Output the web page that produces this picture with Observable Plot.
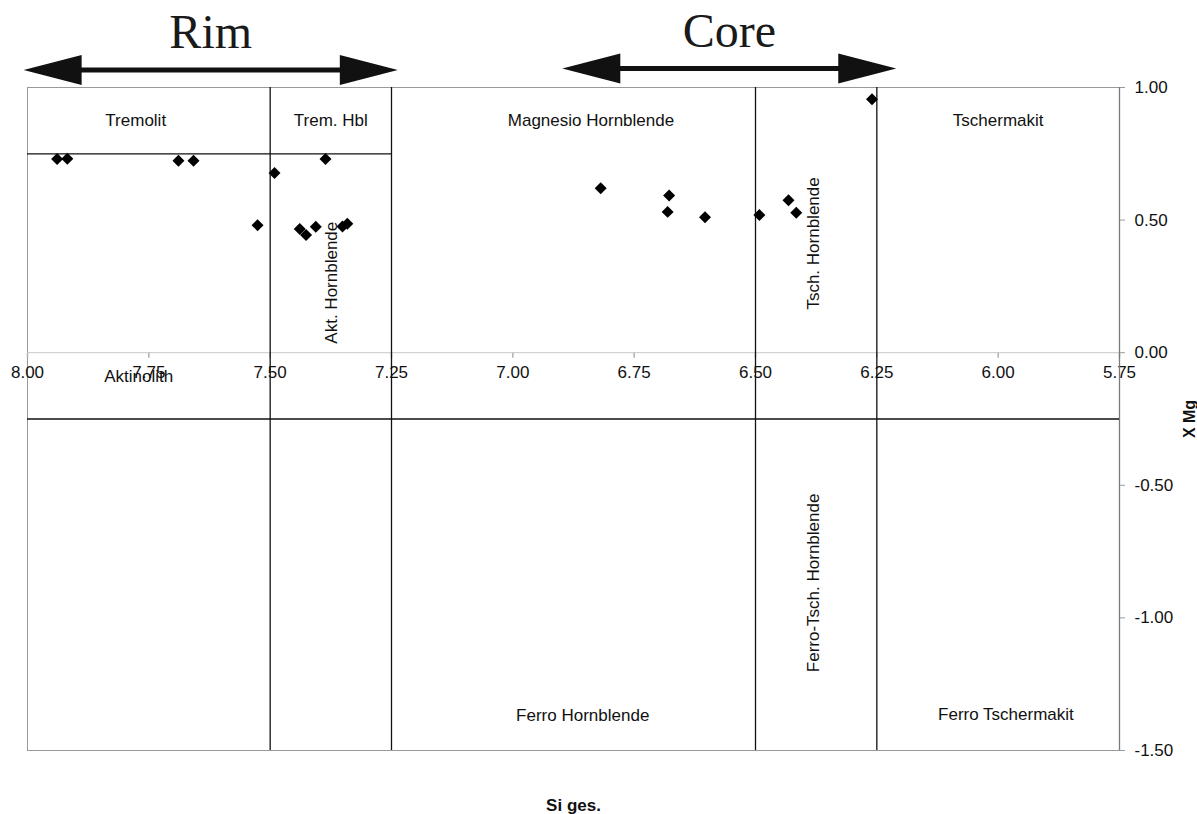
<!DOCTYPE html>
<html>
<head>
<meta charset="utf-8">
<script src="https://cdn.jsdelivr.net/npm/d3@7"></script>
<script src="https://cdn.jsdelivr.net/npm/@observablehq/plot@0.6"></script>
<style>
  html, body { margin: 0; padding: 0; background: #fff; }
  #chart svg { display: block; }
</style>
</head>
<body>
<div id="chart"></div>
<script>
// ---- Data ----
// Measured amphibole analyses: Si per formula unit vs. X Mg
const si  = [7.939, 7.918, 7.689, 7.658, 7.491, 7.386, 7.526, 7.439, 7.426, 7.406, 7.351, 7.341,
             6.819, 6.678, 6.681, 6.604, 6.492, 6.432, 6.416, 6.260];
const xmg = [0.730, 0.731, 0.724, 0.724, 0.678, 0.730, 0.481, 0.466, 0.444, 0.475, 0.476, 0.486,
             0.620, 0.593, 0.531, 0.511, 0.519, 0.575, 0.528, 0.956];

// Classification field boundaries
const siBounds = [7.5, 7.25, 6.5, 6.25];
const xmgBoundLevels = [0.75, -0.25];
const xmgBoundSiFrom = [8.0, 8.0];
const xmgBoundSiTo   = [7.25, 5.75];

// Field names and their anchor points (Si, X Mg)
const fieldNames = ["Tremolit", "Trem. Hbl", "Magnesio Hornblende", "Tschermakit", "Aktinolith",
                    "Akt. Hornblende", "Tsch. Hornblende", "Ferro-Tsch. Hornblende",
                    "Ferro Hornblende", "Ferro Tschermakit"];
const fieldSi  = [7.777, 7.375, 6.839, 6.0, 7.771, 7.373, 6.381, 6.381, 6.856, 5.984];
const fieldXmg = [0.874, 0.874, 0.874, 0.874, -0.089, 0.264, 0.412, -0.868, -1.367, -1.364];
const fieldVertical = [false, false, false, false, false, true, true, true, false, false];

// Rim / Core ranges (Si)
const zoneNames  = ["Rim", "Core"];
const zoneSiFrom = [8.008, 6.898];
const zoneSiTo   = [7.237, 6.210];
const zoneLevel  = [1.066, 1.072];

// Axis ticks and titles
const xTicks = [8.0, 7.75, 7.5, 7.25, 7.0, 6.75, 6.5, 6.25, 6.0, 5.75];
const yTicks = [1.0, 0.5, 0.0, -0.5, -1.0, -1.5];
const xTitle = "Si ges.";
const yTitle = "X Mg";

// ---- Build tables ----
const points = si.map((s, i) => ({si: s, xmg: xmg[i]}));
const hBounds = xmgBoundLevels.map((y, i) => ({y, x1: xmgBoundSiFrom[i], x2: xmgBoundSiTo[i]}));
const fields = fieldNames.map((name, i) => ({name, si: fieldSi[i], xmg: fieldXmg[i], vertical: fieldVertical[i]}));
const zones = zoneNames.map((name, i) => ({name, from: zoneSiFrom[i], to: zoneSiTo[i], level: zoneLevel[i],
                                           mid: (zoneSiFrom[i] + zoneSiTo[i]) / 2}));

const ink = "#111";
const font = "'Liberation Sans', Arial, sans-serif";

const headRight = {draw(ctx) { ctx.moveTo(0, 0); ctx.lineTo(-58, -15); ctx.lineTo(-58, 15); ctx.closePath(); }};
const headLeft  = {draw(ctx) { ctx.moveTo(0, 0); ctx.lineTo(58, -15); ctx.lineTo(58, 15); ctx.closePath(); }};
const tickDown  = {draw(ctx) { ctx.moveTo(0, 0); ctx.lineTo(0, 5); }};

const chart = Plot.plot({
  width: 1197,
  height: 814,
  marginLeft: 27,
  marginRight: 78,
  marginTop: 87,
  marginBottom: 64,
  style: {fontFamily: font, fontSize: "17px", background: "#fff", color: ink},
  x: {domain: [8, 5.75], axis: null},
  y: {domain: [-1.5, 1], axis: null},
  marks: [
    Plot.frame({stroke: "#9a9a9a"}),
    // x axis along X Mg = 0
    Plot.ruleY([0], {stroke: "#c8c8c8", strokeWidth: 1}),
    Plot.dot(xTicks, {x: d => d, y: 0, symbol: tickDown, stroke: "#b0b0b0", fill: "none"}),
    Plot.text(xTicks, {x: d => d, y: 0, dy: 20, text: d => d.toFixed(2), fontSize: 17, fill: ink}),
    // right y axis
    Plot.ruleX([5.75], {stroke: "#7a7a7a", strokeWidth: 1.3}),
    Plot.axisY({anchor: "right", ticks: yTicks, tickFormat: d => d.toFixed(2), tickSize: 5, tickPadding: 10,
                stroke: "#9a9a9a", fill: ink, fontSize: 17, label: null}),
    // field boundaries
    Plot.ruleX(siBounds, {stroke: ink, strokeWidth: 1.3}),
    Plot.ruleY(hBounds, {y: "y", x1: "x1", x2: "x2", stroke: ink, strokeWidth: 1.3}),
    // field names
    Plot.text(fields.filter(d => !d.vertical), {x: "si", y: "xmg", text: "name", fontSize: 17, fill: ink}),
    Plot.text(fields.filter(d => d.vertical), {x: "si", y: "xmg", text: "name", rotate: -90, fontSize: 17, fill: ink}),
    // data points
    Plot.dot(points, {x: "si", y: "xmg", symbol: "diamond2", r: 5.4, fill: "#000", stroke: "none"}),
    // Rim / Core arrows
    Plot.arrow(zones, {x1: "from", x2: "to", y1: "level", y2: "level", insetStart: 40, insetEnd: 40,
                       headLength: 0, strokeWidth: 5, stroke: ink, strokeLinecap: "butt"}),
    Plot.dot(zones, {x: "from", y: "level", symbol: headLeft, fill: ink, stroke: "none"}),
    Plot.dot(zones, {x: "to", y: "level", symbol: headRight, fill: ink, stroke: "none"}),
    Plot.text(zones, {x: "mid", y: "level", text: "name", dy: -37, fontSize: 48,
                      fontFamily: "'Liberation Serif', 'Times New Roman', serif", fill: "#1a1a1a"}),
    // axis titles
    Plot.text([xTitle], {frameAnchor: "bottom", dy: 55, textAnchor: "middle", lineAnchor: "middle",
                         fontWeight: "bold", fontSize: 17, fill: ink}),
    Plot.text([yTitle], {frameAnchor: "right", dx: 70, rotate: -90, textAnchor: "middle", lineAnchor: "middle",
                         fontWeight: "bold", fontSize: 16, fill: ink})
  ]
});

document.getElementById("chart").appendChild(chart);
</script>
</body>
</html>
